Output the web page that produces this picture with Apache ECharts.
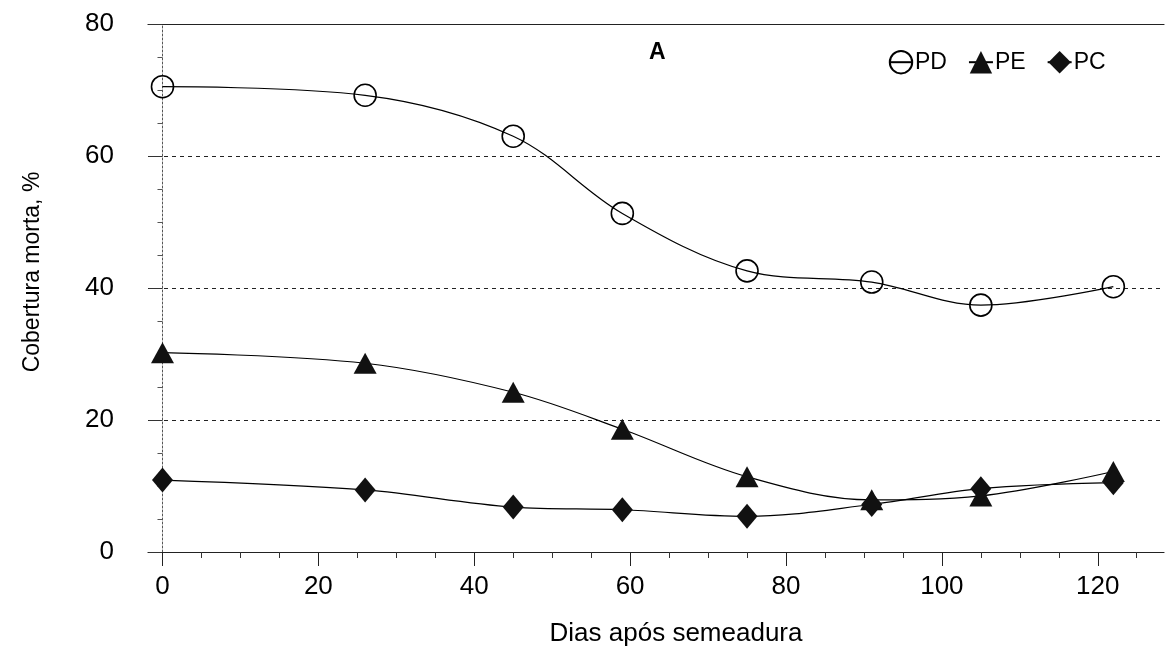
<!DOCTYPE html>
<html>
<head>
<meta charset="utf-8">
<script src="https://cdn.jsdelivr.net/npm/echarts@6/dist/echarts.min.js"></script>
<style>
html,body{margin:0;padding:0;background:#fff;}
#chart{width:1165px;height:659px;}
</style>
</head>
<body>
<div id="chart"></div>
<script>
// Days after sowing
const days = [0, 26, 45, 59, 75, 91, 105, 122];
// Mulch cover (%) per treatment
const pdValues = [70.5, 69.2, 63.0, 51.3, 42.6, 40.9, 37.4, 40.2];
const peValues = [30.2, 28.6, 24.2, 18.6, 11.4, 7.9, 8.5, 12.2];
const pcValues = [10.9, 9.4, 6.8, 6.4, 5.4, 7.2, 9.6, 10.5];
// Tick labels
const xMajorTicks = [0, 20, 40, 60, 80, 100, 120];
const xMinorTicks = [5, 10, 15, 25, 30, 35, 45, 50, 55, 65, 70, 75, 85, 90, 95, 105, 110, 115, 125];
const seriesNames = ['PD', 'PE', 'PC'];

const FONT = 'Liberation Sans, Arial, sans-serif';
const chart = echarts.init(document.getElementById('chart'), null, {renderer: 'canvas'});

function pts(vals) { return days.map((d, i) => [d, vals[i]]); }

const baseSeries = {
  type: 'line',
  smooth: 0.35,
  lineStyle: {color: '#000', width: 1.2},
  emphasis: {disabled: true},
  xAxisIndex: 0,
  yAxisIndex: 0
};

chart.setOption({
  animation: false,
  backgroundColor: '#fff',
  textStyle: {fontFamily: FONT, color: '#000'},
  title: {
    text: 'A', left: 649, top: 41, padding: 0,
    textStyle: {fontFamily: FONT, fontSize: 23, fontWeight: 'bold', color: '#000'}
  },
  legend: {
    data: seriesNames,
    left: 888, top: 50, padding: 0,
    itemWidth: 24, itemHeight: 28, itemGap: 21,
    textStyle: {fontFamily: FONT, fontSize: 23, color: '#000', padding: [0, 0, 0, -3]}
  },
  grid: {left: 148, right: 1, top: 24, bottom: 107, containLabel: false},
  xAxis: [
    {
      type: 'value', min: -1.86, max: 128.5, position: 'bottom',
      name: 'Dias após semeadura', nameLocation: 'middle', nameGap: 69,
      nameTextStyle: {fontFamily: FONT, fontSize: 26, color: '#000', padding: [0, 0, 0, 40]},
      axisLine: {show: true, onZero: true, lineStyle: {color: '#222', width: 1.2}},
      axisTick: {show: true, customValues: xMajorTicks, length: 14, inside: false, lineStyle: {color: '#222'}},
      axisLabel: {show: true, customValues: xMajorTicks, fontFamily: FONT, fontSize: 26, color: '#000', margin: 22},
      splitLine: {show: false}
    },
    {
      type: 'value', min: -1.86, max: 128.5, position: 'bottom', offset: 0,
      axisLine: {show: false, onZero: false},
      axisTick: {show: true, customValues: xMinorTicks, length: 6, inside: false, lineStyle: {color: '#333'}},
      axisLabel: {show: false, customValues: xMinorTicks},
      splitLine: {show: false}
    },
    {
      type: 'value', min: -1.86, max: 128.5, position: 'top',
      axisLine: {show: true, onZero: false, lineStyle: {color: '#222', width: 1.2}},
      axisTick: {show: false},
      axisLabel: {show: false},
      splitLine: {show: false}
    }
  ],
  yAxis: {
    type: 'value', min: 0, max: 80, interval: 20,
    name: 'Cobertura morta, %', nameLocation: 'middle', nameGap: 104,
    nameTextStyle: {fontFamily: FONT, fontSize: 23, color: '#000', padding: [0, 0, 0, 32]},
    axisLine: {show: true, onZero: true, onZeroAxisIndex: 0, lineStyle: {color: '#555', width: 1, type: [2, 2]}},
    axisTick: {show: true, length: 14, inside: false, lineStyle: {color: '#333'}},
    minorTick: {show: true, splitNumber: 4, length: 5, lineStyle: {color: '#555'}},
    axisLabel: {fontFamily: FONT, fontSize: 26, color: '#000', margin: 34},
    splitLine: {show: true, lineStyle: {color: '#222', width: 1, type: [4, 4]}}
  },
  series: [
    Object.assign({}, baseSeries, {
      name: 'PD', data: pts(pdValues), symbol: 'circle', symbolSize: 22,
      itemStyle: {color: 'rgba(255,255,255,0)', borderColor: '#000', borderWidth: 1.6}
    }),
    Object.assign({}, baseSeries, {
      name: 'PE', data: pts(peValues), symbol: 'triangle', symbolSize: [23, 21],
      itemStyle: {color: '#111', borderColor: '#111', borderWidth: 0}
    }),
    Object.assign({}, baseSeries, {
      name: 'PC', data: pts(pcValues), symbol: 'diamond', symbolSize: [21, 25],
      itemStyle: {color: '#111', borderColor: '#111', borderWidth: 0}
    })
  ]
});
</script>
</body>
</html>
